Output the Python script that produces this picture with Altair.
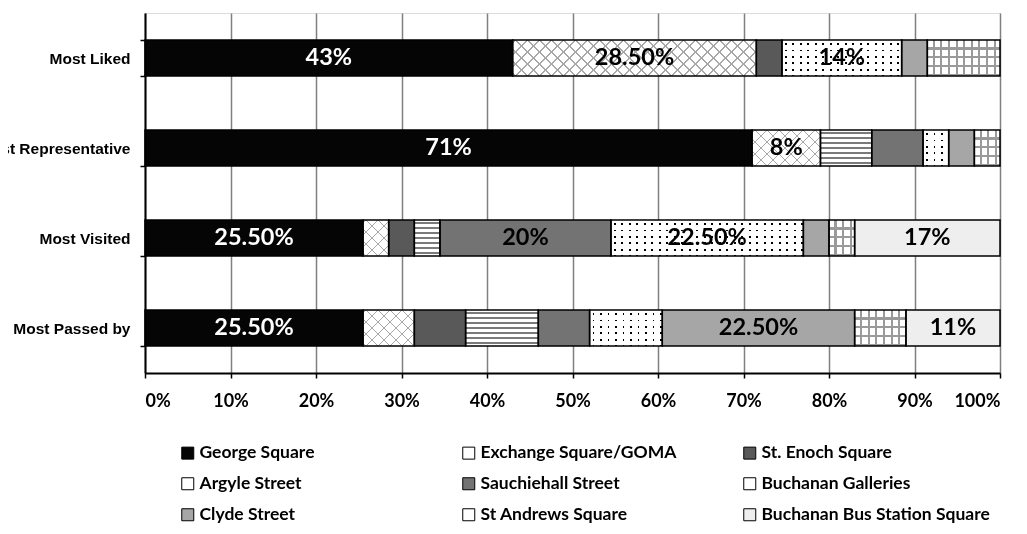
import altair as alt
import pandas as pd

# ---------------- data ----------------
questions = ["Most Liked", "Most Representative", "Most Visited", "Most Passed by"]
locations = ["George Square", "Exchange Square/GOMA", "St. Enoch Square",
             "Argyle Street", "Sauchiehall Street", "Buchanan Galleries",
             "Clyde Street", "St Andrews Square", "Buchanan Bus Station Square"]

# share (%) per question, in the order of `questions`
george_square = [43, 71, 25.5, 25.5]
exchange_square = [28.5, 8, 3, 6]
st_enoch_square = [3, 0, 3, 6]
argyle_street = [0, 6, 3, 8.5]
sauchiehall_street = [0, 6, 20, 6]
buchanan_galleries = [14, 3, 22.5, 8.5]
clyde_street = [3, 3, 3, 22.5]
st_andrews_square = [8.5, 3, 3, 6]
bus_station_square = [0, 0, 17, 11]

series = [george_square, exchange_square, st_enoch_square, argyle_street,
          sauchiehall_street, buchanan_galleries, clyde_street,
          st_andrews_square, bus_station_square]

# which segments carry a printed value label (1 = printed)
label_george = [1, 1, 1, 1]
label_exchange = [1, 1, 0, 0]
label_sauchiehall = [0, 0, 1, 0]
label_galleries = [1, 0, 1, 0]
label_clyde = [0, 0, 0, 1]
label_bus_station = [0, 0, 1, 1]
label_flags = {
    "George Square": label_george,
    "Exchange Square/GOMA": label_exchange,
    "Sauchiehall Street": label_sauchiehall,
    "Buchanan Galleries": label_galleries,
    "Clyde Street": label_clyde,
    "Buchanan Bus Station Square": label_bus_station,
}

# ---------------- styling ----------------
base_fills = ["#050505", "#ffffff", "#595959", "#ffffff", "#737373",
              "#ffffff", "#a6a6a6", "#ffffff", "#eeeeee"]
W, H = 855, 360
BAR = 36  # band width of the bars in px (H / 4 * 0.4)
CLEAR = "rgba(255,255,255,0)"


def fmt(v):
    return f"{v:.2f}%" if v % 1 else f"{int(v)}%"


recs = []
for qi, q in enumerate(questions):
    start = 0.0
    for li, loc in enumerate(locations):
        v = series[li][qi]
        if v > 0:
            show = label_flags.get(loc, [0, 0, 0, 0])[qi]
            recs.append(dict(question=q, location=loc, value=v, start=start,
                             end=start + v, mid=start + v / 2,
                             seg=f"s{qi}_{li}",
                             label=fmt(v) if show else "",
                             tcolor="#ffffff" if li == 0 else "#000000"))
        start += v
df = pd.DataFrame(recs)


def stripe_stops(length, period, line, line_color, bg, offset):
    stops = [(0.0, bg)]
    pos = offset
    while pos < length:
        a = max(pos, 0.0) / length
        b = min(pos + line, length) / length
        stops += [(a, bg), (a, line_color), (b, line_color), (b, bg)]
        pos += period
    stops.append((1.0, bg))
    out = []
    last = 0.0
    for o, c in stops:
        o = round(max(min(o, 1.0), last), 5)
        last = o
        out.append({"offset": o, "color": c})
    return out


def hstripes(period, line, color, bg, offset):
    return {"gradient": "linear", "x1": 0, "y1": 0, "x2": 0, "y2": 1,
            "stops": stripe_stops(BAR, period, line, color, bg, offset)}


def vstripes(w, period, line, color, bg, offset):
    return {"gradient": "linear", "x1": 0, "y1": 0, "x2": 1, "y2": 0,
            "stops": stripe_stops(w, period, line, color, bg, offset)}


def diag(w, direction, period, line, color, bg):
    h = BAR
    s = (w + h) * w / (w * w + h * h)
    if direction == 1:
        g = {"x1": 0, "y1": 0, "x2": round(s, 5), "y2": round(s * h / w, 5)}
    else:
        g = {"x1": 0, "y1": 1, "x2": round(s, 5), "y2": round(1 - s * h / w, 5)}
    g["gradient"] = "linear"
    g["stops"] = stripe_stops(w + h, period, line, color, bg, 2)
    return g


# ---------------- encodings ----------------
y_enc = alt.Y("question:N", sort=questions, title=None,
              scale=alt.Scale(domain=questions, paddingInner=0.6, paddingOuter=0.3),
              axis=alt.Axis(tickBand="extent", grid=False, domainColor="#000000",
                            domainWidth=2, tickColor="#000000", tickWidth=1.5,
                            tickSize=5, labelFont="Liberation Sans",
                            labelFontSize=15.5, labelFontWeight="bold",
                            labelColor="#000000", labelPadding=10, zindex=1))
x_axis = alt.Axis(values=list(range(0, 101, 10)), labelExpr="datum.value + '%'",
                  grid=True, gridColor="#808080", gridWidth=1.5,
                  domainColor="#000000", domainWidth=2, tickColor="#000000",
                  tickWidth=1.5, tickSize=5, labelFont="Lato", labelFontSize=18,
                  labelFontWeight="bold", labelColor="#000000", labelPadding=14)
x_scale = alt.Scale(domain=[0, 100], nice=False, zero=True)
x_enc = alt.X("start:Q", scale=x_scale, axis=x_axis, title=None)

base = alt.Chart(df)

fill_layer = base.mark_bar(strokeWidth=0).encode(
    x=x_enc, x2="end:Q", y=y_enc,
    color=alt.Color("location:N", title=None,
                    scale=alt.Scale(domain=locations, range=base_fills),
                    legend=alt.Legend(orient="none", legendX=34, legendY=431,
                                      direction="horizontal",
                                      columns=3, gridAlign="all",
                                      columnPadding=32, rowPadding=12,
                                      symbolType="square", symbolSize=144,
                                      symbolStrokeColor="#000000",
                                      symbolStrokeWidth=1,
                                      labelFont="Lato", labelFontSize=17.5,
                                      labelFontWeight="bold",
                                      labelColor="#000000", labelLimit=400,
                                      labelOffset=3, padding=0)),
)

layers = [fill_layer]
for r in recs:
    w = r["value"] / 100 * W
    loc = r["location"]
    specs = []
    if loc == "Exchange Square/GOMA":
        specs = [(diag(w, 1, 12, 1.4, "#a8a8a8", "#ffffff"), None),
                 (diag(w, 2, 12, 1.4, "#a8a8a8", CLEAR), None)]
    elif loc == "Argyle Street":
        specs = [(hstripes(5, 2.2, "#7a7a7a", "#ffffff", 2), None)]
    elif loc == "Buchanan Galleries":
        specs = [(hstripes(6.5, 1.7, "#000000", "#ffffff", 3), None),
                 (vstripes(w, 7.5, 1.7, "#000000", "#ffffff", 3), "lighten")]
    elif loc == "St Andrews Square":
        specs = [(hstripes(8.7, 2, "#9a9a9a", "#ffffff", 7.5), None),
                 (vstripes(w, 7.6, 2, "#9a9a9a", CLEAR, 5.5), None)]
    for f, blend in specs:
        kw = dict(fill=f, strokeWidth=0)
        if blend:
            kw["blend"] = blend
        layers.append(
            base.transform_filter(alt.datum.seg == r["seg"])
            .mark_bar(**kw)
            .encode(x=x_enc, x2="end:Q", y=y_enc)
        )

outline = base.mark_bar(fillOpacity=0, stroke="#000000", strokeWidth=1.5).encode(
    x=x_enc, x2="end:Q", y=y_enc)
layers.append(outline)

labels = base.transform_filter(alt.datum.label != "").mark_text(
    font="Lato", fontSize=23.5, fontWeight="bold", align="center",
    baseline="middle").encode(
    x=alt.X("mid:Q", scale=x_scale, axis=x_axis, title=None),
    y=y_enc,
    text="label:N",
    color=alt.Color("tcolor:N", scale=None),
)
layers.append(labels)

chart = alt.layer(*layers).properties(
    width=W, height=H,
    autosize=alt.AutoSizeParams(type="none"),
    padding={"left": 137, "top": 5, "right": 19, "bottom": 153},
).configure_view(stroke="transparent").configure(background="#ffffff")

chart.save("out.html", embed_options={"renderer": "svg", "actions": False})
